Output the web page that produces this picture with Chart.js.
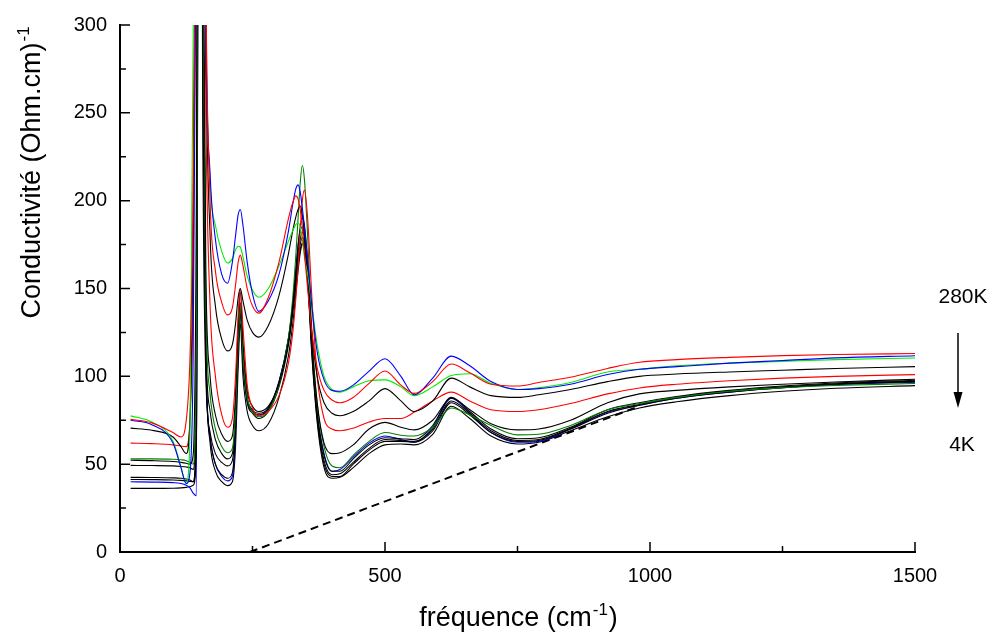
<!DOCTYPE html>
<html>
<head>
<meta charset="utf-8">
<script src="https://cdn.jsdelivr.net/npm/chart.js@4.4.0/dist/chart.umd.min.js"></script>
<style>
  html, body { margin: 0; padding: 0; background: #fff; }
</style>
</head>
<body>
<canvas id="condChart" width="994" height="634"></canvas>
<script>
// Frequency grid shared by all spectra (cm-1)
const freq = [20, 60, 100, 115, 125, 132, 138, 144, 150, 156,
  162, 170, 180, 192, 203, 212, 218, 223, 227, 232,
  240, 250, 262, 280, 300, 318, 326, 332, 336, 340,
  344, 348, 354, 362, 372, 385, 400, 415, 440, 470,
  500, 530, 555, 590, 625, 660, 700, 750, 790, 850,
  920, 980, 1050, 1150, 1250, 1350, 1500];

// Conductivity spectra, hot (280K) to cold (4K)
const redA = [75.5, 73.5, 68, 65.5, 75, 110, 200, 420, 800, 700,
  330, 200, 160, 142, 135, 139, 152, 165, 169, 163,
  150, 140, 136, 145, 165, 190, 199, 202.7, 201, 195,
  185, 170, 150, 125, 105, 92, 86.5, 85, 88, 96,
  103, 95, 90.3, 97, 107, 102, 95.5, 94.5, 96.5, 99.5,
  104.5, 108, 109.5, 110.8, 111.8, 112.4, 113];
const blueA = [75, 72.5, 62, 48, 39, 45, 110, 380, 700, 600,
  300, 215, 178, 158, 153, 165, 180, 192, 195, 186,
  165, 147, 137, 143, 158, 183, 198, 207, 209, 205,
  196, 185, 166, 140, 114, 98, 92, 91.5, 95, 103,
  110, 100, 89.5, 99, 111.5, 106, 97, 92.5, 93, 95.5,
  101, 104, 105.5, 107.5, 109, 110.5, 111.7];
const greenA = [77.5, 74, 63, 48.5, 39, 65, 290, 700, 900, 700,
  320, 212, 186, 171, 164.5, 167, 172, 174, 173.5, 168,
  157, 149, 145, 150, 163, 177, 183, 186.5, 187.3, 185,
  178, 168, 158, 140, 118, 100, 92.5, 91, 94, 97.5,
  98, 94, 89, 94, 100.5, 101.5, 96, 92.5, 93.5, 96.5,
  102.5, 104, 106, 107.5, 108.5, 109.5, 110.4];
const blackA = [70.5, 69.3, 65.5, 60, 56, 75, 190, 450, 850, 650,
  300, 180, 140, 121, 114.5, 118, 130, 145, 150, 143,
  132, 125, 122.3, 129, 146, 170, 183, 191, 195, 197,
  192, 180, 156, 125, 100, 85, 79, 77.6, 80, 86,
  93, 86, 80, 86, 99, 94, 89, 88, 89.5, 92.5,
  97, 100, 101.3, 102.5, 103.5, 104.5, 105.5];
const redB = [62, 61.7, 61, 60.3, 60, 75, 150, 400, 800, 500,
  250, 140, 100, 78, 71, 76, 100, 135, 150, 128,
  95, 82, 77.6, 80, 89, 108, 125, 145, 162, 182,
  200, 206, 190, 145, 100, 76, 70, 69, 70.5, 74,
  76, 76, 79.5, 86, 91, 86, 81, 80, 81, 84.5,
  90, 93.4, 95.5, 97.5, 99, 100, 101];
const blackB = [52.2, 52, 51.5, 51, 50.5, 50, 55, 200, 800, 400,
  160, 100, 78, 67, 63, 66, 90, 130, 148, 120,
  92, 83, 80, 83, 96, 120, 140, 160, 174, 185,
  190, 186, 165, 120, 85, 62, 56, 56.5, 61, 70,
  73.8, 71, 69.5, 75, 87.5, 81, 73, 69.5, 70, 75,
  85, 90, 92, 94, 95.5, 96.8, 98.3];
const greenB = [53, 53, 52.8, 52.5, 52, 51, 50, 120, 900, 350,
  140, 90, 70, 60, 56.5, 59, 80, 120, 140, 112,
  88, 80, 77, 80, 95, 122, 145, 170, 190, 210,
  220, 212, 180, 125, 85, 60, 49, 48, 55, 63,
  68, 66.5, 66, 71, 82, 78, 72, 66.7, 67, 72,
  81, 84.5, 88, 91.5, 93.5, 94.8, 95.9];
const blackC = [49.3, 49.2, 49, 48.7, 48.4, 48, 47, 100, 850, 300,
  120, 80, 64, 56, 53, 56, 80, 125, 142, 112,
  88, 81, 79, 82, 97, 122, 140, 157, 170, 178,
  182, 179, 160, 118, 80, 55, 46, 46, 53, 61,
  65, 64.5, 64, 72, 88, 80, 70, 64.5, 65, 71,
  81, 85, 88.5, 92, 94.5, 96.2, 97.8];
const blackD = [41.3, 41.2, 41, 40.8, 40.5, 40.2, 40, 80, 800, 250,
  100, 68, 56, 51, 49, 52, 75, 120, 138, 110,
  87, 80, 78, 81, 96, 120, 138, 154, 166, 175,
  179, 177, 158, 116, 78, 52, 44, 44.5, 51, 59,
  64, 63.5, 63, 70, 86, 79, 69, 63.5, 64, 70.5,
  80, 84, 88, 91.5, 94, 95.8, 97.3];
const blackE = [42.5, 42.4, 42.2, 42, 41.6, 41, 40, 60, 700, 350,
  110, 65, 50, 44, 42, 45, 70, 115, 135, 108,
  85, 79, 76, 80, 94, 118, 136, 152, 164, 172,
  176, 175, 156, 114, 76, 50, 43, 43, 50, 58,
  63, 63, 62.5, 69, 85, 78, 68, 63, 63.5, 70,
  79, 83.5, 87.5, 91, 93.5, 95.5, 97];
const blueB = [40, 39.8, 39.5, 39, 38, 36.5, 33.5, 32, 700, 300,
  110, 66, 50, 43, 40.5, 43, 68, 115, 136, 108,
  86, 80, 78, 82, 97, 122, 142, 162, 175, 183,
  185, 180, 160, 118, 80, 56, 46, 47, 54, 62,
  66, 64, 62.5, 71, 87.5, 79, 68, 62.5, 63, 70,
  79.5, 83.5, 87.5, 91, 93.5, 95.2, 96.6];
const blackF = [36.2, 36.2, 36.3, 36.5, 36.8, 37.2, 38, 55, 600, 400,
  120, 62, 46, 40, 37.8, 40, 60, 105, 130, 100,
  80, 72, 69, 73, 88, 112, 130, 148, 160, 170,
  175, 174, 155, 112, 74, 48, 42, 42.5, 48, 56,
  61, 61.5, 61, 67, 83, 76, 66, 61.5, 62.5, 69,
  77, 82, 85.5, 89, 91.5, 93.2, 94.7];

// Dashed background line
const baseX = [245, 980];
const baseY = [0, 83];

// Axis ticks
const xTicks = [0, 500, 1000, 1500];
const xMinor = [250, 750, 1250];
const yTicks = [0, 50, 100, 150, 200, 250, 300];
const yMinor = [25, 75, 125, 175, 225, 275];

const tempHigh = '280K';
const tempLow = '4K';

const FONT = '"Liberation Sans", Arial, sans-serif';

const spectra = [
  { data: redA, color: '#ff0000' },
  { data: blueA, color: '#0000ff' },
  { data: greenA, color: '#00ee00' },
  { data: blackA, color: '#000000' },
  { data: redB, color: '#ff0000' },
  { data: blackB, color: '#000000' },
  { data: greenB, color: '#008000' },
  { data: blackC, color: '#000000' },
  { data: blackD, color: '#000000' },
  { data: blackE, color: '#000000' },
  { data: blueB, color: '#0000ff' },
  { data: blackF, color: '#000000' }
];

const datasets = spectra.map(s => ({
  data: freq.map((f, i) => ({ x: f, y: s.data[i] })),
  borderColor: s.color,
  borderWidth: 1.1,
  pointRadius: 0,
  fill: false,
  cubicInterpolationMode: 'monotone'
}));

datasets.push({
  data: baseX.map((f, i) => ({ x: f, y: baseY[i] })),
  borderColor: '#000000',
  borderWidth: 2,
  borderDash: [8, 5],
  pointRadius: 0,
  fill: false
});

// Inward tick marks on the left and bottom axes
const innerTicks = {
  id: 'innerTicks',
  afterDraw(chart) {
    const { ctx, chartArea: a, scales: { x, y } } = chart;
    ctx.save();
    ctx.strokeStyle = '#000';
    ctx.lineWidth = 1.5;
    ctx.beginPath();
    yTicks.concat(yMinor).forEach(v => {
      const py = y.getPixelForValue(v);
      const len = yTicks.includes(v) ? 10 : 6;
      ctx.moveTo(a.left, py);
      ctx.lineTo(a.left + len, py);
    });
    xTicks.concat(xMinor).forEach(v => {
      const px = x.getPixelForValue(v);
      const len = xTicks.includes(v) ? 10 : 6;
      ctx.moveTo(px, a.bottom);
      ctx.lineTo(px, a.bottom - len);
    });
    ctx.stroke();
    ctx.restore();
  }
};

// Text with a superscript part
function drawSup(ctx, pre, sup, post, size, cx, cy) {
  const big = size + 'px ' + FONT;
  const small = Math.round(size * 0.62) + 'px ' + FONT;
  ctx.font = big;
  const w1 = ctx.measureText(pre).width;
  const w3 = ctx.measureText(post).width;
  ctx.font = small;
  const w2 = ctx.measureText(sup).width;
  const x0 = cx - (w1 + w2 + w3) / 2;
  ctx.textAlign = 'left';
  ctx.textBaseline = 'alphabetic';
  ctx.font = big;
  ctx.fillText(pre, x0, cy);
  ctx.font = small;
  ctx.fillText(sup, x0 + w1 + 1, cy - size * 0.4);
  ctx.font = big;
  ctx.fillText(post, x0 + w1 + w2 + 2, cy);
}

const labels = {
  id: 'labels',
  afterDraw(chart) {
    const { ctx, chartArea: a } = chart;
    ctx.save();
    ctx.fillStyle = '#000';
    // x title
    drawSup(ctx, 'fréquence (cm', '-1', ')', 27, (a.left + a.right) / 2, a.bottom + 74);
    // y title
    ctx.save();
    ctx.translate(40, a.top + 148);
    ctx.rotate(-Math.PI / 2);
    drawSup(ctx, 'Conductivité (Ohm.cm)', '-1', '', 27, 0, 0);
    ctx.restore();
    // temperature arrow
    const ax = a.right + 43;
    ctx.font = '21px ' + FONT;
    ctx.textAlign = 'center';
    ctx.textBaseline = 'middle';
    ctx.fillText(tempHigh, ax + 5, a.top + 272);
    ctx.fillText(tempLow, ax + 4, a.top + 420);
    ctx.strokeStyle = '#000';
    ctx.lineWidth = 1.5;
    ctx.beginPath();
    ctx.moveTo(ax, a.top + 308);
    ctx.lineTo(ax, a.top + 370);
    ctx.stroke();
    ctx.beginPath();
    ctx.moveTo(ax - 4.5, a.top + 367);
    ctx.lineTo(ax + 4.5, a.top + 367);
    ctx.lineTo(ax, a.top + 383);
    ctx.closePath();
    ctx.fill();
    ctx.restore();
  }
};

new Chart(document.getElementById('condChart'), {
  type: 'line',
  data: { datasets: datasets },
  options: {
    responsive: false,
    animation: false,
    devicePixelRatio: 1,
    layout: { padding: { left: 0, top: 25, right: 79, bottom: 0 } },
    elements: { line: { capBezierPoints: false } },
    plugins: {
      legend: { display: false },
      tooltip: { enabled: false }
    },
    scales: {
      x: {
        type: 'linear',
        min: 0,
        max: 1500,
        afterFit: s => { s.height = 82; },
        afterBuildTicks: s => { s.ticks = xTicks.map(v => ({ value: v })); },
        grid: { display: false, drawTicks: false },
        border: { display: true, color: '#000', width: 2 },
        ticks: {
          color: '#000',
          padding: 12,
          maxRotation: 0,
          font: { family: FONT, size: 20 },
          callback: v => String(v)
        }
      },
      y: {
        min: 0,
        max: 300,
        afterFit: s => { s.width = 120; },
        afterBuildTicks: s => { s.ticks = yTicks.map(v => ({ value: v })); },
        grid: { display: false, drawTicks: false },
        border: { display: true, color: '#000', width: 2 },
        ticks: {
          color: '#000',
          padding: 13,
          font: { family: FONT, size: 20 },
          callback: v => String(v)
        }
      }
    }
  },
  plugins: [innerTicks, labels]
});
</script>
</body>
</html>
